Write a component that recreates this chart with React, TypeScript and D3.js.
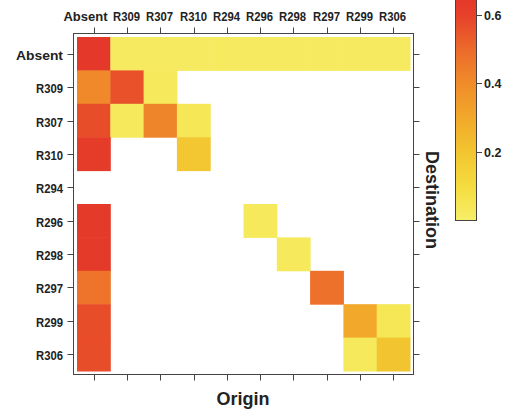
import * as d3 from "d3";

// origin (columns) and destination (rows) labels
const origins = ["Absent", "R309", "R307", "R310", "R294", "R296", "R298", "R297", "R299", "R306"];
const destinations = ["Absent", "R309", "R307", "R310", "R294", "R296", "R298", "R297", "R299", "R306"];

// one row per destination, values by origin; null = no transition
const rowAbsent = [0.65, 0.02, 0.02, 0.02, 0.02, 0.02, 0.02, 0.02, 0.02, 0.02];
const rowR309 = [0.41, 0.56, 0.03, null, null, null, null, null, null, null];
const rowR307 = [0.57, 0.03, 0.42, 0.04, null, null, null, null, null, null];
const rowR310 = [0.63, null, null, 0.19, null, null, null, null, null, null];
const rowR294 = [null, null, null, null, null, null, null, null, null, null];
const rowR296 = [0.64, null, null, null, null, 0.03, null, null, null, null];
const rowR298 = [0.64, null, null, null, null, null, 0.03, null, null, null];
const rowR297 = [0.47, null, null, null, null, null, null, 0.48, null, null];
const rowR299 = [0.57, null, null, null, null, null, null, null, 0.3, 0.04];
const rowR306 = [0.57, null, null, null, null, null, null, null, 0.03, 0.2];
const rows = [rowAbsent, rowR309, rowR307, rowR310, rowR294, rowR296, rowR298, rowR297, rowR299, rowR306];

// colour key ticks
const keyTicks = [0.2, 0.4, 0.6];

const colorStops = [0, 0.1, 0.2, 0.3, 0.4, 0.5, 0.6, 0.7];
const colorRange = ["#f7ee68", "#f4dc3e", "#f2c530", "#f2a82a", "#f08c2a", "#ec6a2a", "#e6412a", "#e2302a"];

const font = "'Liberation Sans', Arial, sans-serif";

export default function App() {
  const width = 513;
  const height = 414;

  // cell area
  const x = d3.scaleBand<string>().domain(origins).range([77, 410]);
  const y = d3.scaleBand<string>().domain(destinations).range([37, 371]);
  const color = d3.scaleLinear<string>().domain(colorStops).range(colorRange).clamp(true);

  const frame = { left: 73.5, right: 413.5, top: 33.5, bottom: 374.5 };

  // colour key
  const keyX = 455;
  const keyW = 21;
  const keyScale = d3.scaleLinear().domain([0, 0.6]).range([220.5, 15]);
  const keyTop = keyScale(0.7);
  const keyBottom = keyScale(0);

  const cells = [];
  rows.forEach((row, i) => {
    row.forEach((v, j) => {
      if (v == null) return;
      cells.push(
        <rect
          key={`${i}-${j}`}
          x={x(origins[j])}
          y={y(destinations[i])}
          width={x.bandwidth() + 0.5}
          height={y.bandwidth() + 0.5}
          fill={color(v)}
        />
      );
    });
  });

  const gradStops = d3.range(0, 0.7001, 0.05);

  return (
    <svg width={width} height={height} style={{ position: "absolute", left: 0, top: 0, background: "#fff" }}>
      <defs>
        <linearGradient id="key" x1="0" y1="1" x2="0" y2="0">
          {gradStops.map((v) => (
            <stop key={v} offset={`${(v / 0.7) * 100}%`} stopColor={color(v)} />
          ))}
        </linearGradient>
      </defs>
      <rect width={width} height={height} fill="#fff" />

      {cells}

      {/* frame */}
      <rect
        x={frame.left}
        y={frame.top}
        width={frame.right - frame.left}
        height={frame.bottom - frame.top}
        fill="none"
        stroke="#444"
        strokeWidth={1}
      />

      {/* top and bottom ticks */}
      {origins.map((o) => {
        const cx = Math.round(x(o) + x.bandwidth() / 2) + 0.5;
        const isAbsent = o === "Absent";
        return (
          <g key={o}>
            <line x1={cx} x2={cx} y1={frame.top - 6} y2={frame.top} stroke="#444" />
            <line x1={cx} x2={cx} y1={frame.bottom} y2={frame.bottom + 6} stroke="#444" />
            <text
              x={isAbsent ? cx - 9 : cx - 1}
              y={20.5}
              textAnchor="middle"
              fontFamily={font}
              fontWeight="bold"
              fontSize={13}
              textLength={isAbsent ? 44 : 27}
              lengthAdjust="spacingAndGlyphs"
              fill="#222"
            >
              {o}
            </text>
          </g>
        );
      })}

      {/* left and right ticks */}
      {destinations.map((d) => {
        const cy = Math.round(y(d) + y.bandwidth() / 2) + 0.5;
        return (
          <g key={d}>
            <line x1={frame.left - 6} x2={frame.left} y1={cy} y2={cy} stroke="#444" />
            <line x1={frame.right} x2={frame.right + 6} y1={cy} y2={cy} stroke="#444" />
            <text
              x={63}
              y={cy + 5}
              textAnchor="end"
              fontFamily={font}
              fontWeight="bold"
              fontSize={13.5}
              textLength={d === "Absent" ? 47 : 27}
              lengthAdjust="spacingAndGlyphs"
              fill="#222"
            >
              {d}
            </text>
          </g>
        );
      })}

      {/* axis titles */}
      <text x={243} y={405} textAnchor="middle" fontFamily={font} fontWeight="bold" fontSize={18} fill="#222">
        Origin
      </text>
      <text
        transform={`translate(426, 200) rotate(90)`}
        textAnchor="middle"
        fontFamily={font}
        fontWeight="bold"
        fontSize={18}
        fill="#222"
      >
        Destination
      </text>

      {/* colour key */}
      <rect
        x={keyX + 0.5}
        y={keyTop}
        width={keyW}
        height={keyBottom - keyTop}
        fill="url(#key)"
        stroke="#444"
      />
      {keyTicks.map((t) => {
        const ty = Math.round(keyScale(t)) + 0.5;
        return (
          <g key={t}>
            <line x1={keyX + keyW + 0.5} x2={keyX + keyW + 6} y1={ty} y2={ty} stroke="#444" />
            <text x={keyX + keyW + 8} y={ty + 4.5} fontFamily={font} fontWeight="bold" fontSize={12.5} fill="#222">
              {t.toFixed(1)}
            </text>
          </g>
        );
      })}
    </svg>
  );
}
